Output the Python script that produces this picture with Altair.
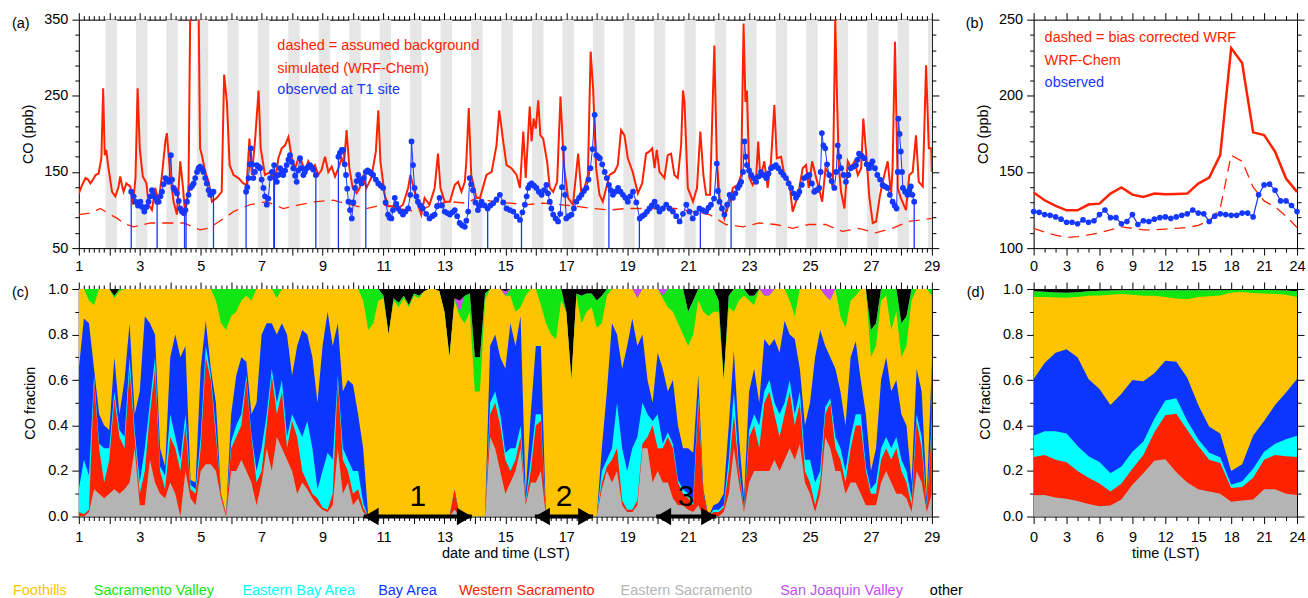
import altair as alt
import pandas as pd
import numpy as np

FONT = "Liberation Sans"
FS = 14.5
RED = "#FF2200"
BLUE = "#1538FF"

# ---------------- panel (a): CO time series at T1 ----------------
wrf_day = [1.00, 1.10, 1.22, 1.30, 1.38, 1.47, 1.55, 1.65, 1.74, 1.80, 1.85, 1.90, 1.96, 2.09, 2.20, 2.30, 2.36, 2.42, 2.47, 2.56,
           2.62, 2.69, 2.78, 2.86, 2.93, 3.00, 3.10, 3.22, 3.29, 3.40, 3.51, 3.62, 3.73, 3.84, 3.89, 4.00, 4.11, 4.22, 4.33, 4.42,
           4.49, 4.60, 4.68, 4.80, 4.91, 4.98, 5.04, 5.15, 5.26, 5.37, 5.53, 5.69, 5.77, 5.86, 5.95, 6.08, 6.24, 6.40, 6.51, 6.60,
           6.68, 6.79, 6.90, 6.97, 7.11, 7.28, 7.44, 7.55, 7.66, 7.77, 7.88, 7.99, 8.10, 8.21, 8.31, 8.42, 8.53, 8.64, 8.75, 8.86,
           8.97, 9.08, 9.19, 9.30, 9.41, 9.52, 9.63, 9.70, 9.79, 9.88, 9.99, 10.12, 10.22, 10.33, 10.44, 10.60, 10.75, 10.83, 10.90, 11.04,
           11.15, 11.32, 11.48, 11.64, 11.81, 11.88, 11.97, 12.10, 12.24, 12.35, 12.51, 12.68, 12.79, 12.87, 13.01, 13.18, 13.34, 13.45, 13.56, 13.67,
           13.72, 13.80, 13.88, 14.05, 14.17, 14.38, 14.55, 14.71, 14.80, 14.93, 15.04, 15.20, 15.37, 15.48, 15.59, 15.67, 15.80, 15.86, 15.93, 16.00,
           16.08, 16.15, 16.24, 16.37, 16.46, 16.57, 16.70, 16.81, 16.92, 17.06, 17.22, 17.39, 17.50, 17.60, 17.71, 17.80, 17.88, 17.98, 18.09, 18.20,
           18.31, 18.42, 18.58, 18.69, 18.80, 18.91, 19.02, 19.18, 19.35, 19.49, 19.62, 19.73, 19.82, 19.90, 19.97, 20.06, 20.22, 20.33, 20.44, 20.55,
           20.66, 20.77, 20.83, 20.88, 20.99, 21.16, 21.29, 21.40, 21.50, 21.59, 21.72, 21.86, 21.94, 22.03, 22.19, 22.36, 22.47, 22.63, 22.74, 22.82,
           22.88, 22.93, 23.01, 23.12, 23.23, 23.30, 23.37, 23.50, 23.61, 23.72, 23.83, 23.91, 24.05, 24.16, 24.32, 24.43, 24.54, 24.65, 24.76, 24.87,
           24.96, 25.07, 25.18, 25.29, 25.40, 25.51, 25.64, 25.75, 25.83, 25.89, 25.95, 26.02, 26.13, 26.24, 26.35, 26.46, 26.57, 26.68, 26.75, 26.84,
           26.95, 27.06, 27.17, 27.30, 27.44, 27.55, 27.66, 27.71, 27.79, 27.88, 27.98, 28.15, 28.26, 28.37, 28.48, 28.57, 28.70, 28.81, 28.90, 28.98,
           29.00]
wrf_co = [122, 132, 142, 140, 135, 140, 146, 148, 168, 260, 172, 179, 159, 124, 118, 130, 144, 132, 124, 135,
          133, 131, 107, 142, 260, 181, 144, 135, 107, 100, 129, 111, 146, 190, 201, 146, 111, 94, 164, 129,
          94, 129, 450, 500, 450, 181, 172, 150, 137, 111, 116, 124, 278, 242, 159, 146, 142, 135, 133, 194,
          146, 194, 257, 181, 146, 150, 137, 168, 181, 185, 196, 168, 155, 168, 164, 150, 164, 155, 159, 146,
          153, 170, 150, 157, 144, 155, 168, 159, 205, 155, 129, 122, 129, 144, 129, 142, 177, 231, 164, 120,
          105, 105, 102, 107, 129, 146, 133, 111, 94, 116, 107, 129, 174, 129, 111, 111, 133, 137, 124, 137,
          164, 234, 146, 116, 116, 146, 150, 185, 231, 190, 159, 155, 146, 129, 203, 142, 236, 190, 220, 207,
          244, 198, 194, 164, 129, 124, 137, 249, 159, 116, 107, 174, 120, 129, 146, 308, 260, 155, 120, 111,
          129, 146, 150, 159, 205, 198, 168, 150, 122, 135, 174, 177, 181, 155, 179, 150, 142, 172, 174, 146,
          142, 185, 257, 242, 129, 111, 129, 203, 146, 120, 120, 316, 168, 116, 89, 111, 129, 133, 146, 345,
          242, 257, 142, 133, 142, 190, 142, 164, 129, 164, 238, 168, 170, 146, 137, 98, 111, 129, 155, 159,
          129, 164, 146, 129, 111, 155, 146, 129, 352, 242, 155, 124, 102, 164, 155, 164, 146, 155, 220, 177,
          116, 83, 85, 120, 146, 164, 120, 155, 321, 129, 116, 100, 146, 150, 198, 137, 131, 290, 181, 181,
          150]

bg_day = [1.0, 1.35, 1.71, 2.0, 2.26, 2.5, 2.8, 3.35, 3.89, 4.44, 4.98, 5.25, 5.53, 5.8, 6.08, 6.62, 7.17, 7.71, 8.26, 8.81,
          9.35, 9.9, 10.44, 10.99, 11.53, 12.08, 12.62, 13.18, 13.72, 14.06, 14.6, 15.15, 15.7, 16.24, 16.79, 17.33, 17.88, 18.42, 18.97, 19.51,
          20.06, 20.6, 21.15, 21.7, 22.24, 22.79, 23.34, 23.88, 24.43, 24.97, 25.51, 26.06, 26.6, 27.15, 27.7, 28.24, 29.0]
bg_co = [94, 96, 102, 95, 89, 82, 78, 83, 83, 83, 74, 76, 83, 90, 98, 107, 111, 102, 107, 111,
         113, 107, 102, 107, 102, 98, 107, 111, 109, 116, 111, 109, 107, 109, 107, 105, 102, 100, 102, 102,
         102, 102, 98, 94, 81, 78, 83, 81, 76, 81, 81, 72, 76, 70, 76, 85, 89]

obs_day = [2.72, 2.80, 2.86, 2.94, 3.02, 3.08, 3.15, 3.22, 3.29, 3.35, 3.40, 3.45, 3.51, 3.57, 3.62, 3.68, 3.73, 3.78, 3.84, 3.90,
           3.95, 4.02, 4.06, 4.11, 4.16, 4.22, 4.28, 4.33, 4.38, 4.44, 4.50, 4.55, 4.60, 4.66, 4.72, 4.77, 4.82, 4.88, 4.93, 4.98,
           5.04, 5.09, 5.15, 5.20, 5.26, 5.31, 5.37, 5.42,
           6.49, 6.53, 6.57, 6.61, 6.65, 6.69, 6.73, 6.78, 6.84, 6.90, 6.95, 7.00, 7.06, 7.11, 7.17, 7.22, 7.28, 7.34, 7.41, 7.46,
           7.50, 7.55, 7.61, 7.66, 7.71, 7.77, 7.82, 7.88, 7.93, 7.99, 8.04, 8.10, 8.15, 8.20, 8.26, 8.31, 8.37, 8.42, 8.48, 8.53,
           8.59, 8.64, 8.70, 8.78,
           9.52, 9.57, 9.63, 9.68, 9.73, 9.77, 9.81, 9.85, 9.90, 9.96, 10.01, 10.07, 10.12, 10.17, 10.22, 10.28, 10.35, 10.42, 10.48, 10.55,
           10.60, 10.66, 10.75, 10.83, 10.91, 10.99, 11.07, 11.15, 11.20, 11.26, 11.31, 11.37, 11.42, 11.48, 11.56, 11.64, 11.72, 11.81, 11.88, 11.92,
           11.97, 12.02, 12.08, 12.13, 12.21, 12.29, 12.40, 12.51, 12.60, 12.68, 12.76, 12.84, 12.92, 13.01, 13.10, 13.18, 13.26, 13.34, 13.42, 13.50,
           13.58, 13.67, 13.72, 13.78, 13.83, 13.88, 13.94, 14.02, 14.10, 14.16, 14.22, 14.32, 14.42, 14.51, 14.60, 14.71, 14.82, 14.93, 15.04, 15.15,
           15.26, 15.37, 15.48, 15.56, 15.64, 15.70, 15.75, 15.80, 15.86, 15.94, 16.02, 16.10, 16.19, 16.27, 16.35, 16.40, 16.46, 16.51, 16.57, 16.65,
           16.73, 16.80, 16.86, 16.92, 16.96, 17.00, 17.08, 17.17, 17.25, 17.33, 17.42, 17.50, 17.58, 17.66, 17.73, 17.79, 17.86, 17.93, 17.99, 18.04,
           18.10, 18.18, 18.26, 18.33, 18.40, 18.46, 18.53, 18.61, 18.70, 18.78, 18.86, 18.94, 19.02, 19.10, 19.19, 19.30, 19.41, 19.49, 19.57, 19.65,
           19.73, 19.81, 19.90, 19.98, 20.06, 20.17, 20.28, 20.39, 20.50, 20.61, 20.72, 20.83, 20.94, 21.04, 21.15, 21.26, 21.37, 21.48, 21.59, 21.67,
           21.75, 21.85, 21.94, 21.98, 22.03, 22.11, 22.19, 22.28, 22.36, 22.41, 22.47, 22.55, 22.63, 22.69, 22.74, 22.80, 22.85, 22.89, 22.93, 23.00,
           23.07, 23.15, 23.23, 23.31, 23.39, 23.47, 23.56, 23.64, 23.72, 23.80, 23.88, 23.96, 24.05, 24.13, 24.21, 24.30, 24.38, 24.46, 24.54, 24.60,
           24.65, 24.73, 24.81, 24.90, 24.98, 25.06, 25.14, 25.22, 25.30, 25.35, 25.39, 25.44, 25.50, 25.56, 25.63, 25.71, 25.80, 25.86, 25.91, 25.96,
           26.02, 26.10, 26.18, 26.26, 26.34, 26.42, 26.51, 26.56, 26.61, 26.70, 26.78, 26.86, 26.94, 27.00, 27.05, 27.13, 27.21, 27.30, 27.38, 27.46,
           27.54, 27.62, 27.71, 27.78, 27.84, 27.88, 27.90, 27.94, 27.98, 28.02, 28.05, 28.12, 28.20, 28.26, 28.31, 28.36, 28.42]
obs_co = [124, 118, 111, 106, 111, 104, 98, 104, 111, 118, 126, 120, 116, 111, 111, 118, 124, 134, 142, 140,
          137, 172, 140, 129, 126, 122, 112, 102, 98, 96, 100, 111, 120, 129, 132, 135, 142, 150, 155, 157,
          154, 150, 142, 135, 126, 120, 122, 124,
          124, 130, 142, 160, 181, 160, 142, 150, 159, 157, 155, 140, 129, 118, 107, 115, 142, 150, 159, 145,
          137, 146, 155, 150, 146, 152, 159, 166, 172, 163, 155, 145, 137, 152, 168, 155, 146, 150, 155, 157,
          159, 156, 153, 146,
          170, 175, 179, 179, 160, 146, 128, 111, 100, 89, 110, 129, 138, 146, 140, 135, 142, 150, 152, 150,
          148, 146, 140, 135, 132, 129, 110, 94, 90, 89, 100, 116, 108, 102, 98, 94, 98, 102, 120, 190,
          159, 129, 118, 111, 106, 102, 95, 89, 92, 94, 105, 116, 106, 98, 96, 94, 97, 100, 92, 83,
          80, 78, 86, 98, 142, 134, 126, 110, 100, 106, 111, 106, 102, 106, 109, 114, 120, 110, 102, 100,
          98, 92, 87, 97, 107, 118, 129, 133, 135, 132, 129, 124, 120, 126, 133, 122, 111, 102, 94, 89,
          85, 95, 130, 181, 120, 89, 92, 94, 102, 111, 116, 120, 125, 129, 140, 155, 180, 225, 172, 170,
          168, 160, 150, 142, 133, 126, 120, 124, 129, 124, 120, 116, 111, 118, 124, 110, 89, 92, 94, 98,
          102, 106, 111, 104, 98, 102, 107, 102, 98, 92, 85, 95, 107, 98, 89, 96, 102, 100, 98, 103,
          107, 115, 161, 125, 111, 102, 94, 107, 120, 118, 116, 122, 129, 133, 137, 150, 190, 170, 159, 152,
          146, 142, 137, 144, 150, 146, 142, 148, 155, 157, 159, 155, 150, 146, 142, 135, 129, 122, 116, 120,
          124, 133, 142, 144, 146, 135, 124, 126, 129, 150, 201, 185, 181, 160, 146, 138, 129, 150, 185, 170,
          155, 146, 137, 146, 155, 157, 159, 166, 174, 171, 168, 160, 155, 160, 164, 155, 146, 140, 133, 131,
          129, 120, 111, 106, 102, 150, 220, 200, 177, 150, 129, 124, 120, 126, 131, 120, 111]

drop_day = [2.72, 3.57, 4.47, 4.52, 5.42, 6.49, 7.40, 7.42, 8.78, 9.52, 10.42, 14.42, 15.53, 18.40, 19.40, 21.40, 22.41, 28.42]
drop_co = [124, 111, 96, 100, 124, 124, 150, 155, 146, 170, 150, 102, 90, 133, 89, 102, 116, 111]

# night shading: 21:00 - 06:00 LST
night_start_hour, night_end_hour = 21, 6

# ---------------- panel (b): diurnal CO ----------------
hour = list(range(25))
wrf_diurnal = [136.5, 131.4, 127.7, 124.8, 124.8, 128.6, 129.2, 135.8, 139.8, 135.1, 133.6, 135.8, 135.4, 135.6, 135.8,
               142.4, 146.3, 161.1, 231.3, 221.5, 176.0, 174.2, 163.3, 145.7, 136.9]
wrf_bc_diurnal = [113, 110.5, 108.5, 107, 107.5, 108.7, 110, 112, 114, 113, 112, 112, 112.5, 113, 113.5,
                  115, 118, 126, 161, 157, 140, 131, 127, 121, 113.5]
obs_hour = [i / 2 for i in range(49)]
obs_diurnal = [124, 123.5, 122, 121.5, 120.5, 119, 117, 117, 116, 118.5, 117, 118, 122, 125, 120, 120, 116, 117.5,
               122, 115.5, 118, 117.5, 119, 120, 120.5, 119.5, 120.5, 121.5, 122.5, 125, 123, 122.5, 117.5, 121,
               122.5, 122, 121.5, 121.5, 123, 123, 120.5, 135, 141.5, 142, 138, 131, 131, 128, 124]

# ---------------- panel (c): CO source fractions (4-hourly) ----------------
regions = ["Foothills", "Sacramento Valley", "Eastern Bay Area", "Bay Area",
           "Western Sacramento", "Eastern Sacramento", "San Joaquin Valley", "other"]
region_colors = ["#FFC400", "#12E612", "#00FFFF", "#0A36FF", "#FF2200", "#B4B4B4", "#C84BF5", "#000000"]

# cumulative tops of lower sources (from the bottom)
esac_top = [0.00, 0.00, 0.02, 0.12, 0.10, 0.08, 0.10, 0.12, 0.10, 0.12, 0.15, 0.30,
            0.05, 0.05, 0.25, 0.15, 0.10, 0.08, 0.15, 0.10, 0.00, 0.20, 0.08, 0.05,
            0.20, 0.23, 0.23, 0.20, 0.08, 0.00, 0.20, 0.20, 0.25, 0.20, 0.15, 0.05,
            0.15, 0.30, 0.20, 0.35, 0.30, 0.25, 0.20, 0.10, 0.15, 0.12, 0.08, 0.05,
            0.03, 0.02, 0.05, 0.30, 0.10, 0.15, 0.05, 0.08, 0.02, 0.00, 0.00, 0.00,
            0.00, 0.00, 0.00, 0.00, 0.00, 0.00, 0.00, 0.00, 0.00, 0.00, 0.00, 0.00,
            0.00, 0.00, 0.03, 0.00, 0.00, 0.00, 0.00, 0.00, 0.00, 0.35, 0.30, 0.20,
            0.10, 0.15, 0.20, 0.30, 0.05, 0.15, 0.15, 0.20, 0.00, 0.00, 0.00, 0.00,
            0.00, 0.00, 0.00, 0.00, 0.00, 0.00, 0.00, 0.12, 0.20, 0.15, 0.20, 0.05,
            0.02, 0.02, 0.05, 0.30, 0.30, 0.15, 0.20, 0.15, 0.15, 0.08, 0.05, 0.05,
            0.03, 0.02, 0.05, 0.00, 0.00, 0.00, 0.00, 0.02, 0.10, 0.30, 0.15, 0.02,
            0.15, 0.20, 0.20, 0.20, 0.20, 0.25, 0.20, 0.25, 0.30, 0.25, 0.32, 0.15,
            0.10, 0.02, 0.10, 0.35, 0.30, 0.20, 0.20, 0.10, 0.15, 0.15, 0.10, 0.05,
            0.05, 0.05, 0.15, 0.20, 0.15, 0.10, 0.10, 0.08, 0.02, 0.20, 0.15, 0.02,
            0.10]
wsac_top = [0.02, 0.01, 0.03, 0.60, 0.30, 0.15, 0.25, 0.52, 0.35, 0.30, 0.65, 0.35,
            0.10, 0.20, 0.45, 0.65, 0.20, 0.12, 0.35, 0.30, 0.20, 0.40, 0.12, 0.10,
            0.30, 0.70, 0.60, 0.35, 0.10, 0.01, 0.30, 0.35, 0.40, 0.60, 0.35, 0.15,
            0.20, 0.40, 0.62, 0.45, 0.55, 0.30, 0.42, 0.35, 0.20, 0.15, 0.10, 0.08,
            0.04, 0.03, 0.10, 0.60, 0.25, 0.20, 0.10, 0.12, 0.04, 0.00, 0.00, 0.00,
            0.00, 0.00, 0.00, 0.00, 0.00, 0.00, 0.00, 0.00, 0.00, 0.00, 0.00, 0.00,
            0.00, 0.00, 0.12, 0.00, 0.00, 0.00, 0.00, 0.00, 0.00, 0.45, 0.50, 0.40,
            0.25, 0.20, 0.25, 0.35, 0.06, 0.20, 0.40, 0.42, 0.00, 0.00, 0.00, 0.00,
            0.00, 0.00, 0.00, 0.00, 0.00, 0.00, 0.00, 0.15, 0.22, 0.25, 0.30, 0.07,
            0.03, 0.03, 0.07, 0.32, 0.35, 0.40, 0.30, 0.30, 0.35, 0.30, 0.15, 0.10,
            0.08, 0.05, 0.50, 0.10, 0.00, 0.02, 0.02, 0.04, 0.20, 0.45, 0.20, 0.03,
            0.35, 0.40, 0.30, 0.50, 0.55, 0.45, 0.35, 0.45, 0.55, 0.40, 0.50, 0.20,
            0.15, 0.05, 0.15, 0.45, 0.50, 0.30, 0.25, 0.15, 0.30, 0.40, 0.40, 0.20,
            0.10, 0.10, 0.25, 0.30, 0.25, 0.30, 0.20, 0.15, 0.05, 0.42, 0.30, 0.04,
            0.40]
eba_top = [0.12, 0.25, 0.18, 0.62, 0.32, 0.30, 0.30, 0.55, 0.38, 0.35, 0.70, 0.38,
           0.15, 0.30, 0.50, 0.70, 0.22, 0.18, 0.45, 0.35, 0.25, 0.45, 0.14, 0.12,
           0.35, 0.75, 0.62, 0.38, 0.10, 0.01, 0.33, 0.40, 0.45, 0.62, 0.36, 0.20,
           0.30, 0.45, 0.65, 0.50, 0.60, 0.35, 0.45, 0.40, 0.35, 0.42, 0.30, 0.12,
           0.20, 0.28, 0.25, 0.62, 0.30, 0.25, 0.20, 0.20, 0.06, 0.00, 0.00, 0.00,
           0.00, 0.00, 0.00, 0.00, 0.00, 0.00, 0.00, 0.00, 0.00, 0.00, 0.00, 0.00,
           0.00, 0.00, 0.12, 0.00, 0.00, 0.00, 0.00, 0.00, 0.00, 0.50, 0.55, 0.45,
           0.28, 0.30, 0.30, 0.40, 0.07, 0.25, 0.45, 0.45, 0.00, 0.00, 0.00, 0.00,
           0.00, 0.00, 0.00, 0.00, 0.00, 0.00, 0.00, 0.20, 0.25, 0.30, 0.50, 0.30,
           0.20, 0.30, 0.35, 0.50, 0.45, 0.42, 0.45, 0.32, 0.37, 0.32, 0.16, 0.12,
           0.10, 0.08, 0.53, 0.10, 0.00, 0.03, 0.03, 0.05, 0.25, 0.55, 0.22, 0.04,
           0.38, 0.45, 0.40, 0.55, 0.60, 0.50, 0.45, 0.50, 0.60, 0.45, 0.55, 0.25,
           0.25, 0.15, 0.20, 0.48, 0.52, 0.35, 0.30, 0.20, 0.35, 0.45, 0.45, 0.22,
           0.12, 0.15, 0.30, 0.35, 0.30, 0.35, 0.25, 0.20, 0.08, 0.45, 0.35, 0.05,
           0.43]
bay_top = [0.65, 0.87, 0.85, 0.65, 0.45, 0.40, 0.38, 0.70, 0.45, 0.60, 0.85, 0.45,
           0.55, 0.88, 0.85, 0.80, 0.30, 0.22, 0.70, 0.80, 0.70, 0.75, 0.16, 0.15,
           0.65, 0.86, 0.65, 0.50, 0.10, 0.01, 0.45, 0.62, 0.70, 0.68, 0.45, 0.50,
           0.80, 0.85, 0.85, 0.80, 0.85, 0.80, 0.62, 0.75, 0.82, 0.80, 0.70, 0.50,
           0.75, 0.90, 0.75, 0.85, 0.55, 0.60, 0.58, 0.45, 0.30, 0.00, 0.00, 0.00,
           0.00, 0.00, 0.00, 0.00, 0.00, 0.00, 0.00, 0.00, 0.00, 0.00, 0.00, 0.00,
           0.00, 0.00, 0.12, 0.00, 0.00, 0.00, 0.00, 0.00, 0.00, 0.75, 0.80, 0.70,
           0.65, 0.85, 0.75, 0.88, 0.10, 0.45, 0.75, 0.75, 0.00, 0.00, 0.00, 0.00,
           0.00, 0.00, 0.00, 0.00, 0.00, 0.00, 0.00, 0.30, 0.55, 0.85, 0.80, 0.65,
           0.75, 0.87, 0.75, 0.80, 0.60, 0.50, 0.72, 0.65, 0.55, 0.60, 0.40, 0.30,
           0.30, 0.28, 0.62, 0.12, 0.00, 0.05, 0.06, 0.10, 0.40, 0.73, 0.35, 0.08,
           0.55, 0.65, 0.50, 0.78, 0.75, 0.78, 0.72, 0.86, 0.80, 0.78, 0.65, 0.40,
           0.50, 0.70, 0.82, 0.75, 0.70, 0.65, 0.55, 0.40, 0.70, 0.77, 0.60, 0.45,
           0.20, 0.30, 0.60, 0.70, 0.55, 0.60, 0.45, 0.40, 0.15, 0.65, 0.55, 0.08,
           0.68]
# fractions of the upper sources (drawn from the top down)
sacv_frac = [0, 0, 0.05, 0.07, 0, 0, 0, 0.01, 0.01, 0, 0, 0,
             0, 0, 0, 0, 0, 0, 0, 0, 0, 0, 0, 0,
             0, 0, 0, 0.05, 0.15, 0.18, 0.12, 0.10, 0.05, 0.03, 0.05, 0,
             0, 0, 0, 0.04, 0, 0, 0, 0, 0, 0, 0, 0,
             0, 0, 0, 0, 0, 0, 0, 0, 0.05, 0.18, 0.15, 0.05,
             0.01, 0, 0.01, 0.02, 0.01, 0.01, 0.01, 0.01, 0, 0, 0, 0,
             0, 0, 0.01, 0.02, 0.12, 0.08, 0.15, 0.15, 0.03, 0, 0, 0,
             0, 0.03, 0.10, 0.08, 0.03, 0, 0, 0.07, 0.15, 0.20, 0.22, 0.05,
             0, 0, 0.01, 0.12, 0.08, 0.06, 0.12, 0.12, 0.03, 0, 0, 0,
             0, 0, 0, 0, 0, 0, 0, 0.01, 0.08, 0.10, 0.15, 0.20,
             0.15, 0.15, 0.05, 0.10, 0.12, 0.10, 0.05, 0, 0.05, 0.10, 0.05, 0.03,
             0.02, 0.04, 0, 0, 0, 0, 0, 0, 0.05, 0.12, 0, 0,
             0, 0, 0, 0, 0, 0, 0.12, 0.17, 0.05, 0.03, 0, 0,
             0.12, 0.10, 0.05, 0.03, 0.18, 0.10, 0.15, 0.13, 0.05, 0, 0, 0,
             0.03]
sjv_frac = [0, 0, 0, 0, 0, 0, 0, 0, 0, 0, 0, 0,
            0, 0, 0, 0, 0, 0, 0, 0, 0, 0, 0, 0,
            0, 0, 0, 0, 0, 0, 0, 0, 0, 0, 0, 0,
            0, 0, 0, 0, 0, 0, 0, 0, 0, 0, 0, 0,
            0, 0, 0, 0, 0, 0, 0, 0, 0, 0, 0, 0,
            0, 0, 0, 0, 0, 0, 0, 0, 0, 0, 0, 0,
            0, 0, 0, 0.05, 0, 0, 0, 0, 0, 0, 0, 0,
            0.02, 0, 0, 0, 0, 0, 0, 0, 0, 0, 0, 0,
            0, 0, 0, 0, 0, 0, 0, 0, 0, 0, 0, 0,
            0, 0, 0.04, 0, 0, 0, 0, 0.03, 0, 0, 0, 0,
            0, 0, 0, 0, 0, 0, 0, 0, 0, 0, 0, 0,
            0, 0, 0, 0.03, 0.03, 0, 0, 0, 0, 0, 0, 0,
            0, 0, 0, 0.03, 0.05, 0, 0, 0, 0, 0, 0, 0,
            0, 0, 0, 0, 0, 0, 0, 0, 0, 0, 0, 0,
            0]
other_frac = [0, 0, 0, 0, 0, 0, 0, 0.03, 0, 0, 0, 0,
              0, 0, 0, 0, 0, 0, 0, 0, 0, 0, 0, 0,
              0, 0, 0, 0, 0, 0, 0, 0, 0, 0, 0, 0,
              0, 0, 0, 0, 0, 0, 0, 0, 0, 0, 0, 0,
              0, 0, 0, 0, 0, 0, 0, 0, 0, 0, 0, 0,
              0.03, 0.20, 0.04, 0.06, 0.03, 0.07, 0.02, 0.03, 0.01, 0, 0, 0.01,
              0.10, 0.30, 0.04, 0.05, 0.03, 0.02, 0.30, 0.30, 0.02, 0, 0, 0,
              0.01, 0, 0, 0, 0, 0, 0, 0, 0, 0, 0, 0,
              0.10, 0.40, 0.02, 0.03, 0.02, 0.02, 0.05, 0.03, 0, 0, 0, 0,
              0, 0, 0, 0, 0, 0, 0, 0, 0, 0, 0, 0,
              0.10, 0.05, 0, 0, 0, 0, 0.05, 0.40, 0.03, 0, 0, 0,
              0.03, 0.03, 0, 0, 0, 0, 0, 0, 0, 0, 0, 0,
              0, 0, 0, 0, 0, 0, 0, 0, 0, 0, 0, 0,
              0.18, 0.15, 0, 0, 0, 0, 0.15, 0.12, 0, 0, 0, 0,
              0]
frac_day = [1 + i / 6 for i in range(169)]

arrow_start = [10.35, 15.97, 19.95]
arrow_end = [13.90, 17.88, 21.92]
arrow_label = ["1", "2", "3"]

# ---------------- panel (d): diurnal fractions ----------------
esac_top_d = [0.093, 0.095, 0.083, 0.078, 0.068, 0.055, 0.045, 0.048, 0.075, 0.14, 0.19, 0.245, 0.252,
              0.195, 0.15, 0.12, 0.11, 0.10, 0.065, 0.07, 0.075, 0.12, 0.12, 0.10, 0.095]
wsac_top_d = [0.262, 0.27, 0.25, 0.238, 0.20, 0.17, 0.145, 0.11, 0.145, 0.21, 0.27, 0.37, 0.445,
              0.452, 0.38, 0.31, 0.25, 0.235, 0.125, 0.13, 0.17, 0.25, 0.27, 0.265, 0.262]
eba_top_d = [0.355, 0.375, 0.375, 0.365, 0.31, 0.265, 0.24, 0.19, 0.22, 0.285, 0.33, 0.43, 0.51,
             0.52, 0.42, 0.34, 0.28, 0.26, 0.14, 0.155, 0.21, 0.285, 0.32, 0.34, 0.355]
bay_top_d = [0.605, 0.675, 0.72, 0.735, 0.70, 0.605, 0.56, 0.49, 0.54, 0.60, 0.595, 0.63, 0.685,
             0.68, 0.61, 0.49, 0.395, 0.365, 0.20, 0.23, 0.355, 0.42, 0.49, 0.545, 0.605]
sacv_frac_d = [0.025, 0.023, 0.022, 0.022, 0.021, 0.020, 0.020, 0.019, 0.017, 0.020, 0.025, 0.025, 0.030,
               0.037, 0.040, 0.030, 0.027, 0.023, 0.011, 0.009, 0.013, 0.016, 0.017, 0.018, 0.025]
sjv_frac_d = [0.0] * 25
other_frac_d = [0.010, 0.012, 0.015, 0.016, 0.014, 0.010, 0.008, 0.006, 0.005, 0.005, 0.005, 0.005, 0.005,
                0.005, 0.005, 0.005, 0.005, 0.005, 0.004, 0.004, 0.004, 0.004, 0.005, 0.007, 0.010]

# ---------------- axes helpers ----------------
AX = dict(grid=False, tickColor="black", tickWidth=1, domainColor="black", domainWidth=1,
          labelOverlap=False, labelFlush=False, labelFont=FONT, labelFontSize=FS, labelColor="black",
          titleFont=FONT, titleFontSize=FS, titleFontWeight="normal", titleColor="black")


def mk_axis(orient, values, major, label_expr="", title="", title_pad=8, label_pad=4):
    kw = dict(AX)
    kw.update(orient=orient, values=values, title=title, titlePadding=title_pad, labelPadding=label_pad,
              tickSize={"condition": {"test": major, "value": 7}, "value": 4})
    if label_expr:
        kw["labelExpr"] = label_expr
    else:
        kw["labels"] = False
    return alt.Axis(**kw)


day_ticks = [1 + i / 6 for i in range(169)]
hour_ticks = list(range(25))
co_ticks_a = list(range(50, 351, 20))
co_ticks_b = list(range(100, 251, 10))
frac_ticks = [round(i * 0.1, 1) for i in range(11)]

DAY_MAJ = "datum.value % 1 === 0"
DAY_LAB = "datum.value % 2 === 1 ? format(datum.value, 'd') : ''"
HR_MAJ = "datum.value % 3 === 0"
HR_LAB = "datum.value % 3 === 0 ? format(datum.value, 'd') : ''"
COA_MAJ = "(datum.value - 50) % 100 === 0"
COA_LAB = "(datum.value - 50) % 100 === 0 ? format(datum.value, 'd') : ''"
COB_MAJ = "datum.value % 50 === 0"
COB_LAB = "datum.value % 50 === 0 ? format(datum.value, 'd') : ''"
FR_MAJ = "round(datum.value * 10) % 2 === 0"
FR_LAB = "round(datum.value * 10) % 2 === 0 ? format(datum.value, '.1f') : ''"

s_day = alt.Scale(domain=[1, 29], nice=False, zero=False)
s_hour = alt.Scale(domain=[0, 24], nice=False, zero=False)
s_coa = alt.Scale(domain=[50, 350], nice=False, zero=False)
s_cob = alt.Scale(domain=[100, 250], nice=False, zero=False)
s_fr = alt.Scale(domain=[0, 1], nice=False, zero=False)

one = pd.DataFrame({"k": [0]})


def label(text, x, y, color="black", size=FS, align="left"):
    return alt.Chart(one).mark_text(text=text, align=align, baseline="middle", font=FONT,
                                    fontSize=size, color=color).encode(x=alt.value(x), y=alt.value(y))


# ---------------- panel (a) ----------------
W_L, H_T = 855, 229
W_R = 264
H_B = 228

night_df = pd.DataFrame({"start": [n - (24 - night_start_hour) / 24 for n in range(2, 30)],
                         "end": [n + night_end_hour / 24 for n in range(2, 30)]})
bands = alt.Chart(night_df).mark_rect(color="#E6E6E6", clip=True).encode(
    x=alt.X("start:Q", scale=s_day, axis=None), x2="end:Q")

bg_df = pd.DataFrame({"day": bg_day, "co": bg_co})
bg = alt.Chart(bg_df).mark_line(color=RED, strokeDash=[11, 7], strokeWidth=1.3, clip=True).encode(
    x=alt.X("day:Q", scale=s_day, axis=mk_axis("bottom", day_ticks, DAY_MAJ, DAY_LAB)),
    y=alt.Y("co:Q", scale=s_coa, axis=mk_axis("left", co_ticks_a, COA_MAJ, COA_LAB, "CO (ppb)", 8)))

wrf_df = pd.DataFrame({"day": wrf_day, "co": wrf_co})
wrf = alt.Chart(wrf_df).mark_line(color=RED, strokeWidth=2, clip=True).encode(
    x=alt.X("day:Q", scale=s_day, axis=mk_axis("top", day_ticks, DAY_MAJ)),
    y=alt.Y("co:Q", scale=s_coa, axis=mk_axis("right", co_ticks_a, COA_MAJ)))

drop_df = pd.DataFrame({"day": drop_day, "co": drop_co})
drop_df["floor"] = s_coa.domain[0]
drops = alt.Chart(drop_df).mark_rule(color=BLUE, strokeWidth=1.3).encode(
    x=alt.X("day:Q", scale=s_day, axis=None), y=alt.Y("co:Q", scale=s_coa, axis=None), y2="floor:Q")

obs_df = pd.DataFrame({"day": obs_day, "co": obs_co})
obs_df["seg"] = (obs_df["day"].diff() > 0.5).cumsum()
obs_line = alt.Chart(obs_df).mark_line(color=BLUE, strokeWidth=1).encode(
    x=alt.X("day:Q", scale=s_day, axis=None), y=alt.Y("co:Q", scale=s_coa, axis=None), detail="seg:N")
obs_pts = alt.Chart(obs_df).mark_circle(color=BLUE, size=34, opacity=1).encode(
    x=alt.X("day:Q", scale=s_day, axis=None), y=alt.Y("co:Q", scale=s_coa, axis=None))

panel_a = alt.layer(
    bands, bg, wrf, drops, obs_line, obs_pts,
    label("dashed = assumed background", 199, 26, RED),
    label("simulated (WRF-Chem)", 199, 49, RED),
    label("observed at T1 site", 199, 71, BLUE),
    label("(a)", -67, 4),
).resolve_axis(x="independent", y="independent").properties(width=W_L, height=H_T)

# ---------------- panel (b) ----------------
b_df = pd.DataFrame({"hour": hour, "wrf": wrf_diurnal, "bc": wrf_bc_diurnal})
b_obs = pd.DataFrame({"hour": obs_hour, "co": obs_diurnal})
b_wrf = alt.Chart(b_df).mark_line(color=RED, strokeWidth=2.5).encode(
    x=alt.X("hour:Q", scale=s_hour, axis=mk_axis("bottom", hour_ticks, HR_MAJ, HR_LAB)),
    y=alt.Y("wrf:Q", scale=s_cob, axis=mk_axis("left", co_ticks_b, COB_MAJ, COB_LAB, "CO (ppb)", 8)))
b_bc = alt.Chart(b_df).mark_line(color=RED, strokeWidth=1.3, strokeDash=[11, 7]).encode(
    x=alt.X("hour:Q", scale=s_hour, axis=mk_axis("top", hour_ticks, HR_MAJ)),
    y=alt.Y("bc:Q", scale=s_cob, axis=mk_axis("right", co_ticks_b, COB_MAJ)))
b_ol = alt.Chart(b_obs).mark_line(color=BLUE, strokeWidth=1.2).encode(
    x=alt.X("hour:Q", scale=s_hour, axis=None), y=alt.Y("co:Q", scale=s_cob, axis=None))
b_op = alt.Chart(b_obs).mark_circle(color=BLUE, size=32, opacity=1).encode(
    x=alt.X("hour:Q", scale=s_hour, axis=None), y=alt.Y("co:Q", scale=s_cob, axis=None))
panel_b = alt.layer(
    b_wrf, b_bc, b_ol, b_op,
    label("dashed = bias corrected WRF", 11, 18, RED),
    label("WRF-Chem", 11, 41, RED),
    label("observed", 11, 64, BLUE),
    label("(b)", -68, 4),
).resolve_axis(x="independent", y="independent").properties(width=W_R, height=H_T)


# ---------------- stacked-fraction helper ----------------
def stack_tops(esac, wsac, eba, bay, sacv, sjv, other):
    esac, wsac, eba, bay = map(np.asarray, (esac, wsac, eba, bay))
    sacv, sjv, other = map(np.asarray, (sacv, sjv, other))
    return {
        "other": np.ones_like(esac, dtype=float),
        "San Joaquin Valley": 1 - other,
        "Sacramento Valley": 1 - other - sjv,
        "Foothills": 1 - other - sjv - sacv,
        "Bay Area": bay,
        "Eastern Bay Area": eba,
        "Western Sacramento": wsac,
        "Eastern Sacramento": esac,
    }


draw_order = ["other", "San Joaquin Valley", "Sacramento Valley", "Foothills",
              "Bay Area", "Eastern Bay Area", "Western Sacramento", "Eastern Sacramento"]
color_of = dict(zip(regions, region_colors))


def area_layers(xvals, tops, xname, xscale, ax_bl, ax_tr):
    layers = []
    for i, reg in enumerate(draw_order):
        df = pd.DataFrame({xname: xvals, "top": tops[reg]})
        if i == 0:
            xa, ya = ax_bl
        elif i == len(draw_order) - 1:
            xa, ya = ax_tr
        else:
            xa, ya = None, None
        xenc = alt.X(f"{xname}:Q", scale=xscale, axis=xa) if xa is not None else alt.X(f"{xname}:Q", scale=xscale, axis=None)
        yenc = alt.Y("top:Q", scale=s_fr, stack=None, axis=ya) if ya is not None else alt.Y("top:Q", scale=s_fr, stack=None, axis=None)
        layers.append(alt.Chart(df).mark_area(color=color_of[reg], opacity=1, strokeWidth=0,
                                               interpolate="linear", clip=True).encode(x=xenc, y=yenc))
    return layers


# ---------------- panel (c) ----------------
tops_c = stack_tops(esac_top, wsac_top, eba_top, bay_top, sacv_frac, sjv_frac, other_frac)
c_layers = area_layers(
    frac_day, tops_c, "day", s_day,
    (mk_axis("bottom", day_ticks, DAY_MAJ, DAY_LAB, "date and time (LST)", 3, 7),
     mk_axis("left", frac_ticks, FR_MAJ, FR_LAB, "CO fraction", 10)),
    (mk_axis("top", day_ticks, DAY_MAJ), mk_axis("right", frac_ticks, FR_MAJ)))

arr_df = pd.DataFrame({"start": arrow_start, "end": arrow_end, "lab": arrow_label})
arr_df["mid"] = (arr_df["start"] + arr_df["end"]) / 2
shaft = alt.Chart(arr_df).mark_rule(color="black", strokeWidth=4).encode(
    x=alt.X("start:Q", scale=s_day, axis=None), x2="end:Q", y=alt.Y(datum=0, scale=s_fr, axis=None))
head_l = alt.Chart(arr_df).mark_point(shape="triangle-left", filled=True, color="black", size=300,
                                      opacity=1, strokeWidth=0, xOffset=7.5).encode(
    x=alt.X("start:Q", scale=s_day, axis=None), y=alt.Y(datum=0, scale=s_fr, axis=None))
head_r = alt.Chart(arr_df).mark_point(shape="triangle-right", filled=True, color="black", size=300,
                                      opacity=1, strokeWidth=0, xOffset=-7.5).encode(
    x=alt.X("end:Q", scale=s_day, axis=None), y=alt.Y(datum=0, scale=s_fr, axis=None))
arr_txt = alt.Chart(arr_df).mark_text(font=FONT, fontSize=30, color="black", baseline="middle").encode(
    x=alt.X("mid:Q", scale=s_day, axis=None), y=alt.value(208), text="lab:N")

legend_x = [-66, 15, 164, 300, 381, 543, 703, 853]
legend_layers = [label(r, lx, 303, c) for r, c, lx in zip(regions, region_colors, legend_x)]

panel_c = alt.layer(
    *c_layers, shaft, head_l, head_r, arr_txt, label("(c)", -67, 4), *legend_layers
).resolve_axis(x="independent", y="independent").properties(width=W_L, height=H_B)

# ---------------- panel (d) ----------------
tops_d = stack_tops(esac_top_d, wsac_top_d, eba_top_d, bay_top_d, sacv_frac_d, sjv_frac_d, other_frac_d)
d_layers = area_layers(
    hour, tops_d, "hour", s_hour,
    (mk_axis("bottom", hour_ticks, HR_MAJ, HR_LAB, "time (LST)", 3, 7),
     mk_axis("left", frac_ticks, FR_MAJ, FR_LAB, "CO fraction", 10)),
    (mk_axis("top", hour_ticks, HR_MAJ), mk_axis("right", frac_ticks, FR_MAJ)))
panel_d = alt.layer(*d_layers, label("(d)", -67, 4)).resolve_axis(
    x="independent", y="independent").properties(width=W_R, height=H_B)

chart = alt.concat(
    panel_a, panel_b, panel_c, panel_d, columns=2,
    spacing={"row": 41, "column": 102}, bounds="flush"
).properties(
    padding={"left": 11, "top": 10, "right": 2, "bottom": 2}, background="white"
).configure_view(stroke="black", strokeWidth=1).configure(font=FONT)

chart.save("out.html", embed_options={"renderer": "svg", "actions": False})
